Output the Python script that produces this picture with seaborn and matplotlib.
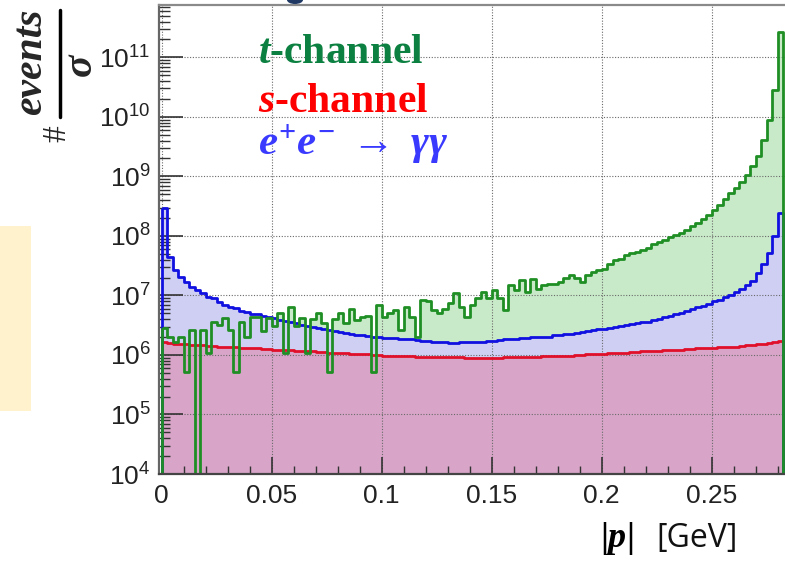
import numpy as np
import pandas as pd
import matplotlib
matplotlib.use("Agg")
import matplotlib.pyplot as plt
import seaborn as sns
from matplotlib.patches import Rectangle, Ellipse
from matplotlib.lines import Line2D
from matplotlib.ticker import LogLocator, MultipleLocator, NullFormatter

# ---------------- data (log10 of events/sigma per bin) -------------
bin_width = 0.0025
n_bins = 113

t_channel_log10 = [
    6.45, 6.30, 6.22, 6.30, 5.71, 6.42, None, 6.42, 6.03, 6.55,
    6.50, 6.62, 6.42, 5.71, 6.55, 6.31, 6.64, 6.64, 6.40, 6.62,
    6.48, 6.70, 6.03, 6.81, 6.48, 6.62, 6.03, 6.60, 6.70, 6.53,
    5.72, 6.60, 6.70, 6.53, 6.77, 6.59, 6.64, 6.66, 5.72, 6.84,
    6.64, 6.70, 6.76, 6.42, 6.80, 6.64, 6.30, 6.92, 6.90, 6.76,
    6.70, 6.78, 6.88, 7.04, 6.81, 6.64, 6.84, 6.96, 7.06, 6.95,
    7.09, 6.95, 6.76, 7.18, 7.09, 7.26, 7.06, 7.28, 7.10, 7.18,
    7.20, 7.20, 7.23, 7.29, 7.34, 7.29, 7.23, 7.34, 7.40, 7.43,
    7.45, 7.52, 7.60, 7.62, 7.68, 7.71, 7.73, 7.76, 7.80, 7.86,
    7.90, 7.93, 7.98, 8.02, 8.05, 8.10, 8.16, 8.21, 8.28, 8.35,
    8.44, 8.52, 8.62, 8.72, 8.80, 8.90, 9.02, 9.17, 9.35, 9.62,
    9.95, 10.45, 11.43,
]

s_channel_log10 = [
    6.21, 6.20, 6.19, 6.19, 6.18, 6.17, 6.17, 6.16, 6.15, 6.15,
    6.14, 6.14, 6.13, 6.13, 6.12, 6.12, 6.11, 6.11, 6.10, 6.10,
    6.09, 6.09, 6.08, 6.08, 6.07, 6.07, 6.06, 6.06, 6.05, 6.05,
    6.04, 6.04, 6.03, 6.03, 6.02, 6.02, 6.01, 6.01, 6.00, 6.00,
    5.99, 5.99, 5.99, 5.98, 5.98, 5.98, 5.97, 5.97, 5.97, 5.97,
    5.96, 5.96, 5.96, 5.96, 5.96, 5.95, 5.95, 5.95, 5.95, 5.95,
    5.95, 5.95, 5.96, 5.96, 5.96, 5.96, 5.97, 5.97, 5.97, 5.98,
    5.98, 5.98, 5.99, 5.99, 5.99, 6.00, 6.00, 6.01, 6.01, 6.02,
    6.02, 6.03, 6.03, 6.04, 6.04, 6.05, 6.05, 6.06, 6.06, 6.07,
    6.07, 6.08, 6.08, 6.09, 6.09, 6.10, 6.10, 6.11, 6.11, 6.12,
    6.12, 6.13, 6.13, 6.14, 6.14, 6.15, 6.16, 6.17, 6.18, 6.19,
    6.20, 6.21, 6.23,
]

ee_gg_log10 = [
    8.47, 7.65, 7.43, 7.31, 7.23, 7.14, 7.09, 7.04, 6.98, 6.96,
    6.89, 6.84, 6.81, 6.79, 6.74, 6.72, 6.69, 6.68, 6.66, 6.64,
    6.62, 6.59, 6.57, 6.55, 6.53, 6.51, 6.49, 6.47, 6.45, 6.43,
    6.42, 6.40, 6.39, 6.37, 6.36, 6.34, 6.33, 6.32, 6.31, 6.30,
    6.29, 6.28, 6.28, 6.27, 6.27, 6.26, 6.25, 6.24, 6.23, 6.22,
    6.21, 6.21, 6.20, 6.20, 6.21, 6.21, 6.22, 6.22, 6.22, 6.23,
    6.24, 6.25, 6.26, 6.27, 6.27, 6.28, 6.29, 6.30, 6.30, 6.30,
    6.31, 6.33, 6.34, 6.35, 6.36, 6.37, 6.38, 6.40, 6.42, 6.43,
    6.44, 6.45, 6.47, 6.48, 6.50, 6.52, 6.53, 6.55, 6.56, 6.58,
    6.61, 6.63, 6.66, 6.68, 6.71, 6.74, 6.77, 6.80, 6.83, 6.86,
    6.90, 6.93, 6.97, 7.01, 7.05, 7.10, 7.17, 7.25, 7.38, 7.52,
    7.72, 8.00, 8.39,
]

xtick_values = [0, 0.05, 0.1, 0.15, 0.2, 0.25]
xtick_labels = ["0", "0.05", "0.1", "0.15", "0.2", "0.25"]
y_exponents = [4, 5, 6, 7, 8, 9, 10, 11]

legend_labels = [r"$\mathit{t}$-channel", r"$\mathit{s}$-channel",
                 r"$e^{+}e^{-}\;\rightarrow\;\gamma\gamma$"]

# ---------------- styles ----------------
green_fill, green_line = "#c9eac9", "#1f8f25"
blue_fill, blue_line = "#cfcff4", "#1010e0"
red_fill, red_line = "#d8a5c8", "#e0102a"
green_text, red_text, blue_text = "#0b8040", "#ff0000", "#3a3aff"

sns.set_style("ticks")
plt.rcParams["font.family"] = ["Liberation Sans", "DejaVu Sans"]
plt.rcParams["mathtext.fontset"] = "custom"
plt.rcParams["mathtext.it"] = "Liberation Serif:italic:bold"
plt.rcParams["mathtext.rm"] = "Liberation Serif:bold"
plt.rcParams["mathtext.bf"] = "Liberation Serif:bold"
plt.rcParams["mathtext.sf"] = "Liberation Sans"


def to_counts(vals):
    return [0.0 if v is None else 10.0 ** v for v in vals]


edges = [round(i * bin_width, 6) for i in range(n_bins + 1)]
centers = [e + bin_width / 2 for e in edges[:-1]]
df = pd.DataFrame({
    "p": centers,
    "t": to_counts(t_channel_log10),
    "s": to_counts(s_channel_log10),
    "ee": to_counts(ee_gg_log10),
})

W, H = 785, 561
fig = plt.figure(figsize=(W / 100, H / 100), dpi=100)
fx = lambda px: px / W
fy = lambda py: 1 - py / H

ax = fig.add_axes([fx(159), fy(474), (785 - 159) / W, (474 - 5) / H])
ax.set_yscale("log")

# fills first
for col, face in [("t", green_fill), ("ee", blue_fill), ("s", red_fill)]:
    sns.histplot(data=df, x="p", weights=col, bins=edges, element="step",
                 fill=True, color=face, facecolor=face, edgecolor="none",
                 alpha=1, linewidth=0, ax=ax, zorder=1)
# outlines on top
for col, lc in [("s", red_line), ("ee", blue_line), ("t", green_line)]:
    sns.histplot(data=df, x="p", weights=col, bins=edges, element="step",
                 fill=True, color=lc, facecolor="none", edgecolor=lc,
                 alpha=1, linewidth=2.0, ax=ax, zorder=2)

ax.set_xlim(-0.0012, 0.2833)
ax.set_ylim(1e4, 10 ** 11.88)
ax.set_xlabel("")
ax.set_ylabel("")

ax.set_xticks(xtick_values, labels=xtick_labels)
ax.xaxis.set_minor_locator(MultipleLocator(0.01))
yt = [10.0 ** e for e in y_exponents]
ax.set_yticks(yt, labels=[rf"$\mathsf{{10^{{{e}}}}}$" for e in y_exponents])
ax.yaxis.set_minor_locator(LogLocator(base=10, subs=np.arange(2, 10)))
ax.yaxis.set_minor_formatter(NullFormatter())

ax.tick_params(axis="both", which="both", direction="in", colors="#333",
               labelcolor="#222", labelsize=19)
ax.tick_params(axis="y", which="major", length=17, width=1.2, pad=6)
ax.tick_params(axis="y", which="minor", length=8, width=1.0)
ax.tick_params(axis="x", which="major", length=12, width=1.2, pad=7)
ax.tick_params(axis="x", which="minor", length=6, width=1.0)

ax.grid(True, which="major", color="#6a6a6a", linestyle=(0, (1, 1.5)),
        linewidth=0.8)
ax.set_axisbelow("line")

for side in ["left", "bottom", "top"]:
    ax.spines[side].set_linewidth(1.6)
ax.spines["left"].set_color("#666")
ax.spines["bottom"].set_color("#444")
ax.spines["top"].set_color("#8a8a8a")
ax.spines["right"].set_visible(False)

# legend-like labels
fig.text(fx(258), fy(63), legend_labels[0], color=green_text, fontsize=30,
         family="Liberation Serif", weight="bold", ha="left", va="baseline")
fig.text(fx(258), fy(112), legend_labels[1], color=red_text, fontsize=30,
         family="Liberation Serif", weight="bold", ha="left", va="baseline")
fig.text(fx(258), fy(155), legend_labels[2], color=blue_text, fontsize=31,
         family="Liberation Serif", weight="bold", ha="left", va="baseline")

# y label: # events / sigma (built as a fraction)
fig.text(fx(31), fy(62), "events", rotation=90, fontsize=30,
         family="Liberation Serif", weight="bold", style="italic",
         ha="center", va="center")
fig.lines.append(Line2D([fx(60), fx(60)], [fy(10), fy(117)], color="black",
                        linewidth=2.5, transform=fig.transFigure))
fig.text(fx(81), fy(65), "σ", rotation=90, fontsize=30,
         family="Liberation Serif", weight="bold", style="italic",
         ha="center", va="center")
fig.text(fx(57), fy(134), "#", rotation=90, fontsize=24,
         family="Liberation Serif", ha="center", va="center")

# x label
fig.text(fx(600), fy(547), r"$|\mathit{p}|$", fontsize=26, ha="left",
         va="baseline", color="black")
fig.text(fx(656), fy(547), "[GeV]", fontsize=23, family="Open Sans",
         ha="left", va="baseline", color="#111")

# side decoration and the cut-off title fragment at the top edge
fig.patches.append(Rectangle((0, fy(411)), fx(31), (411 - 226) / H,
                             transform=fig.transFigure, facecolor="#fff2cc",
                             edgecolor="none", zorder=0))
fig.patches.append(Ellipse((fx(295), 1.0), 16 / W, 8 / H,
                           transform=fig.transFigure, facecolor="#1f3864",
                           edgecolor="none", zorder=3))

fig.savefig("out.png", dpi=100)
